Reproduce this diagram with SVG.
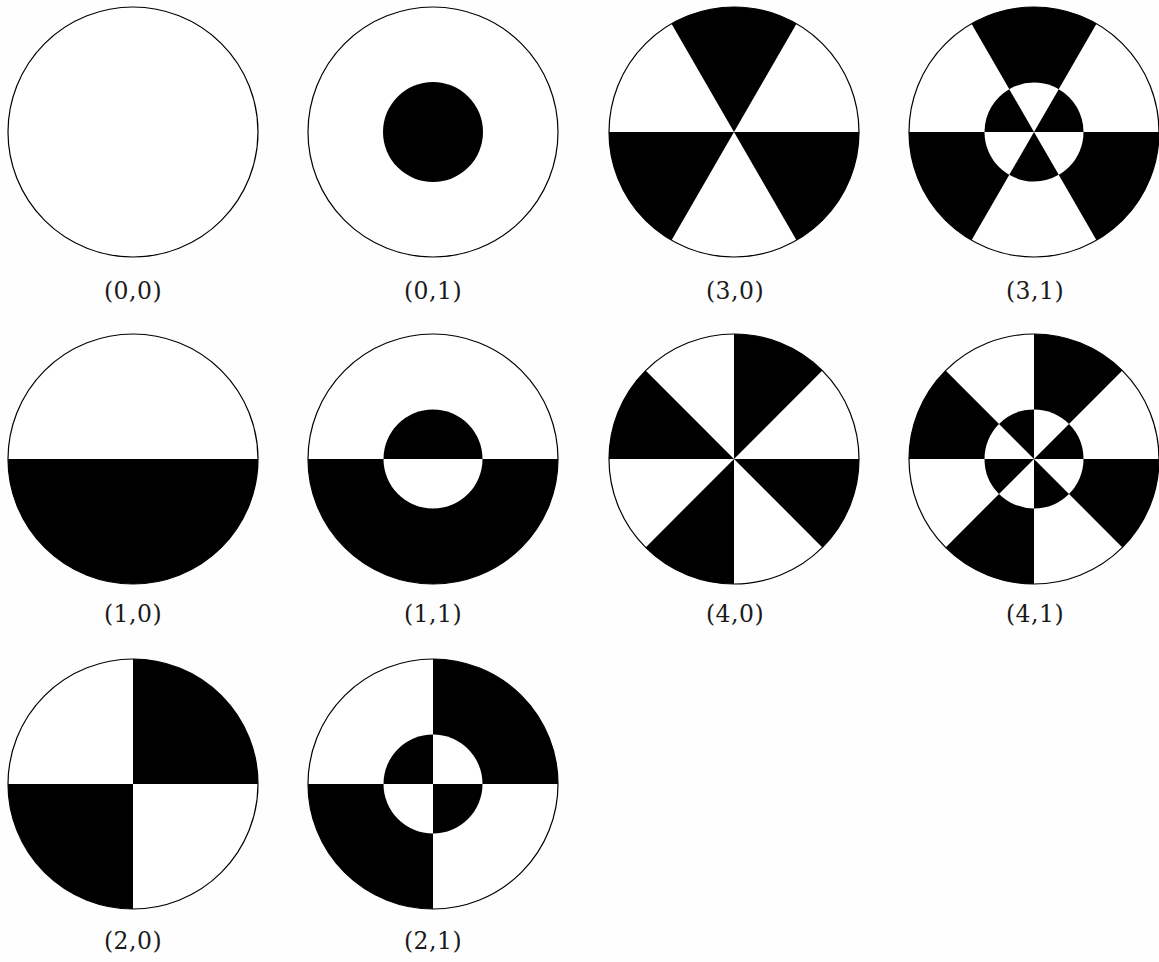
<svg xmlns="http://www.w3.org/2000/svg" xmlns:xlink="http://www.w3.org/1999/xlink" width="1159" height="962" viewBox="0 0 1159 962">
<style>
.bg{fill:#fefefe}
.disk{fill:#ffffff;stroke:none}
.rim{fill:none;stroke:#000;stroke-width:1.2}
.blk{fill:#000;stroke:none}
.wht{fill:#fff;stroke:none}
.lbl{font-family:"DejaVu Serif","Liberation Serif",serif;font-size:23.5px;fill:#1a1a1a;text-anchor:middle;letter-spacing:0.5px}
</style>
<defs>
<g id="half">
<path class="blk" d="M-125,0 A125,125 0 0 0 125,0 Z"/>
</g>
<g id="quad">
<path class="blk" d="M0,0 L125,0 A125,125 0 0 0 0,-125 Z"/>
<path class="blk" d="M0,0 L-125,0 A125,125 0 0 0 0,125 Z"/>
</g>
<g id="tri">
<path class="blk" d="M0,0 L62.5,-108.25 A125,125 0 0 0 -62.5,-108.25 Z"/>
<path class="blk" d="M0,0 L-125,0 A125,125 0 0 0 -62.5,108.25 Z"/>
<path class="blk" d="M0,0 L62.5,108.25 A125,125 0 0 0 125,0 Z"/>
</g>
<g id="oct">
<path class="blk" d="M0,0 L88.39,-88.39 A125,125 0 0 0 0,-125 Z"/>
<path class="blk" d="M0,0 L-88.39,-88.39 A125,125 0 0 0 -125,0 Z"/>
<path class="blk" d="M0,0 L-88.39,88.39 A125,125 0 0 0 0,125 Z"/>
<path class="blk" d="M0,0 L88.39,88.39 A125,125 0 0 0 125,0 Z"/>
</g>
</defs>
<rect class="bg" x="0" y="0" width="1159" height="962"/>

<g id="node-0-0" transform="translate(133,132)">
<circle class="disk" r="125"/>
<circle class="rim" r="125"/>
</g>
<text class="lbl" x="133" y="299">(0,0)</text>

<g id="node-0-1" transform="translate(433,132)">
<circle class="disk" r="125"/>
<circle class="blk" r="50"/>
<circle class="rim" r="125"/>
</g>
<text class="lbl" x="433" y="299">(0,1)</text>

<g id="node-3-0" transform="translate(734,132)">
<circle class="disk" r="125"/>
<use xlink:href="#tri"/>
<circle class="rim" r="125"/>
</g>
<text class="lbl" x="735" y="299">(3,0)</text>

<g id="node-3-1" transform="translate(1034,132)">
<circle class="disk" r="125"/>
<use xlink:href="#tri"/>
<circle class="wht" r="49.5"/>
<path class="blk" d="M0,0 L49.5,0 A49.5,49.5 0 0 0 24.75,-42.87 Z"/>
<path class="blk" d="M0,0 L-24.75,-42.87 A49.5,49.5 0 0 0 -49.5,0 Z"/>
<path class="blk" d="M0,0 L-24.75,42.87 A49.5,49.5 0 0 0 24.75,42.87 Z"/>
<circle class="rim" r="125"/>
</g>
<text class="lbl" x="1035" y="299">(3,1)</text>

<g id="node-1-0" transform="translate(133,459)">
<circle class="disk" r="125"/>
<use xlink:href="#half"/>
<circle class="rim" r="125"/>
</g>
<text class="lbl" x="133" y="622">(1,0)</text>

<g id="node-1-1" transform="translate(433,459)">
<circle class="disk" r="125"/>
<use xlink:href="#half"/>
<path class="blk" d="M-49.5,0 A49.5,49.5 0 0 1 49.5,0 Z"/>
<path class="wht" d="M-49.5,0 A49.5,49.5 0 0 0 49.5,0 Z"/>
<circle class="rim" r="125"/>
</g>
<text class="lbl" x="433" y="622">(1,1)</text>

<g id="node-4-0" transform="translate(734,459)">
<circle class="disk" r="125"/>
<use xlink:href="#oct"/>
<circle class="rim" r="125"/>
</g>
<text class="lbl" x="735" y="622">(4,0)</text>

<g id="node-4-1" transform="translate(1034,459)">
<circle class="disk" r="125"/>
<use xlink:href="#oct"/>
<circle class="wht" r="49.5"/>
<path class="blk" d="M0,0 L49.5,0 A49.5,49.5 0 0 0 35,-35 Z"/>
<path class="blk" d="M0,0 L0,-49.5 A49.5,49.5 0 0 0 -35,-35 Z"/>
<path class="blk" d="M0,0 L-49.5,0 A49.5,49.5 0 0 0 -35,35 Z"/>
<path class="blk" d="M0,0 L0,49.5 A49.5,49.5 0 0 0 35,35 Z"/>
<circle class="rim" r="125"/>
</g>
<text class="lbl" x="1035" y="622">(4,1)</text>

<g id="node-2-0" transform="translate(133,784)">
<circle class="disk" r="125"/>
<use xlink:href="#quad"/>
<circle class="rim" r="125"/>
</g>
<text class="lbl" x="133" y="949">(2,0)</text>

<g id="node-2-1" transform="translate(433,784)">
<circle class="disk" r="125"/>
<use xlink:href="#quad"/>
<circle class="wht" r="49.5"/>
<path class="blk" d="M0,0 L0,-49.5 A49.5,49.5 0 0 0 -49.5,0 Z"/>
<path class="blk" d="M0,0 L0,49.5 A49.5,49.5 0 0 0 49.5,0 Z"/>
<circle class="rim" r="125"/>
</g>
<text class="lbl" x="433" y="949">(2,1)</text>

<g id="connectors"/>
</svg>
